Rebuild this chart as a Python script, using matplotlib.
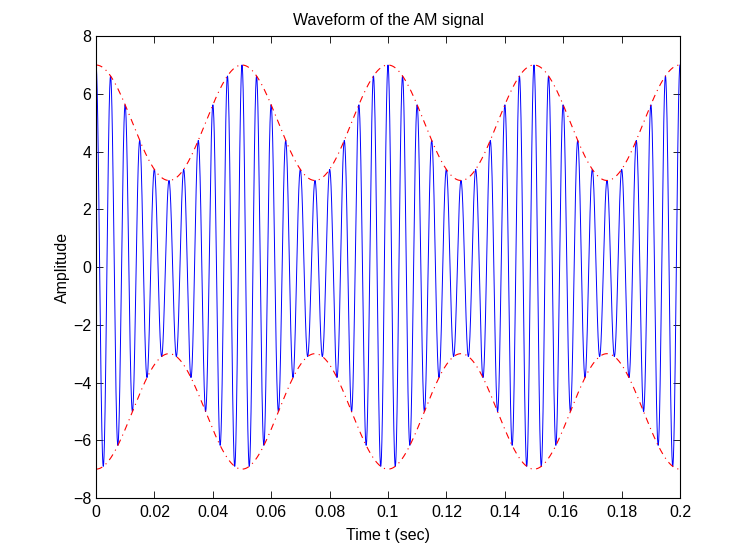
import numpy as np
import matplotlib
matplotlib.use('Agg')
import matplotlib.pyplot as plt

# AM signal parameters
carrier_amp = 5.0      # mean envelope level (peaks 7, dips 3)
mod_amp = 2.0          # envelope swing
carrier_freq = 200.0   # Hz, 40 cycles in 0.2 s
mod_freq = 20.0        # Hz, envelope period 0.05 s
t_end = 0.2
n_samples = 4001

xticks = [0, 0.02, 0.04, 0.06, 0.08, 0.1, 0.12, 0.14, 0.16, 0.18, 0.2]
xtick_labels = ['0', '0.02', '0.04', '0.06', '0.08', '0.1', '0.12', '0.14', '0.16', '0.18', '0.2']
yticks = [-8, -6, -4, -2, 0, 2, 4, 6, 8]

t = np.linspace(0, t_end, n_samples)
envelope = carrier_amp + mod_amp * np.cos(2 * np.pi * mod_freq * t)
signal = envelope * np.cos(2 * np.pi * carrier_freq * t)

plt.rcParams['font.family'] = ['Liberation Sans', 'DejaVu Sans']
plt.rcParams['font.size'] = 11.5

fig = plt.figure(figsize=(7.3, 5.56), dpi=100)
ax = fig.add_axes([0.1315, 0.1043, 0.80, 0.8307])

ax.plot(t, signal, color='blue', lw=0.7)
ax.plot(t, envelope, color='red', ls=(0, (6, 4, 1, 4)), lw=0.8)
ax.plot(t, -envelope, color='red', ls=(0, (6, 4, 1, 4)), lw=0.8)

ax.set_xlim(0, t_end)
ax.set_ylim(-8, 8)
ax.set_xticks(xticks)
ax.set_xticklabels(xtick_labels)
ax.set_yticks(yticks)
ax.tick_params(axis='x', pad=5)
ax.tick_params(direction='in', top=True, right=True, length=5, width=0.6)
for s in ax.spines.values():
    s.set_linewidth(0.8)

ax.set_title('Waveform of the AM signal', fontsize=11.5, pad=8)
ax.set_xlabel('Time t (sec)', labelpad=6)
ax.set_ylabel('Amplitude', labelpad=2)

fig.savefig('out.png', dpi=100)
